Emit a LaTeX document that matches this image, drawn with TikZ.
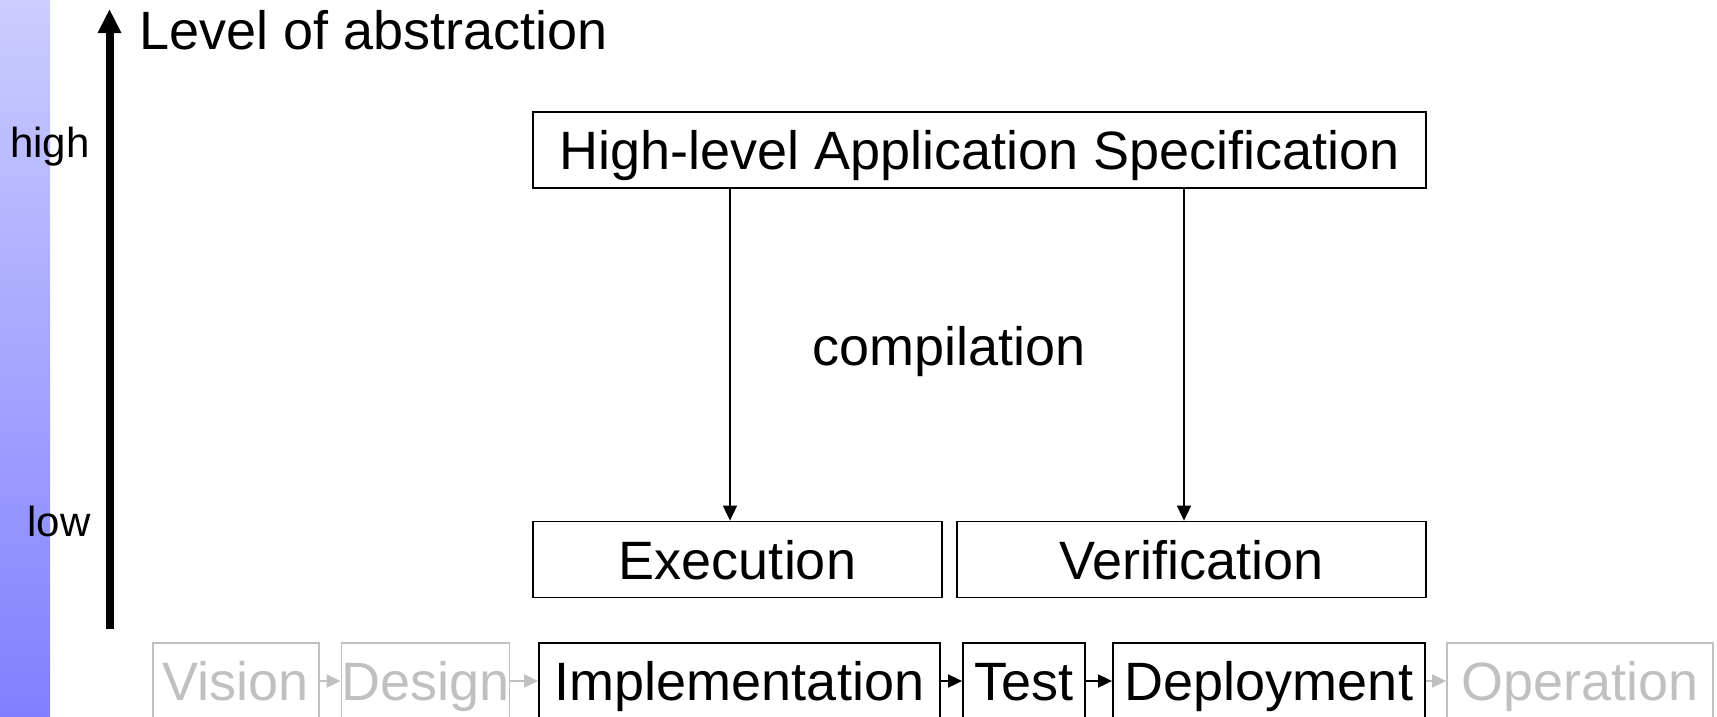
\documentclass[tikz,border=0pt]{standalone}
\usepackage{fontspec}
\setmainfont{Liberation Sans}
\usetikzlibrary{arrows.meta}

\definecolor{faded}{RGB}{192,192,192}
\definecolor{bartop}{RGB}{204,204,255}
\definecolor{barbottom}{RGB}{128,128,255}

\begin{document}
\begin{tikzpicture}[x=1pt,y=-1pt,
  bigtext/.style={font=\fontsize{54pt}{60pt}\selectfont},
  box/.style={draw, line width=1.8pt, minimum height=76pt, inner sep=0pt,
    text height=39pt, text depth=0pt, bigtext},
  fadedbox/.style={box, draw=faded, text=faded},
  flow/.style={line width=1.8pt, -{Triangle[length=15pt,width=14pt]}},
  stepflow/.style={line width=1.8pt, -{Triangle[length=14pt,width=13pt]}},
  levellabel/.style={anchor=base east, font=\fontsize{42pt}{48pt}\selectfont}
]
\useasboundingbox (0,0) rectangle (1717,716);
\clip (0,0) rectangle (1717,716);

% shaded strip on the left edge
\shade[top color=bartop, bottom color=barbottom] (0,0) rectangle (50,716);

% abstraction axis
\coordinate (axisbottom) at (109.5,629);
\coordinate (axistop) at (109.5,9);
\draw[line width=8pt, -{Triangle[length=24pt,width=22pt]}] (axisbottom) -- (axistop);
\node[anchor=base west, bigtext] (axistitle) at (136,49) {Level of abstraction};
\node[levellabel] (high) at (93,157) {high};
\node[levellabel] (low) at (94,536) {low};

% specification and its compilation targets
\node[box, minimum width=893pt] (spec) at (979.5,150) {High-level Application Specification};
\node[box, minimum width=409pt] (exec) at (737.5,559.5) {Execution};
\node[box, minimum width=469pt] (verif) at (1191.5,559.5) {Verification};
\node[anchor=base, bigtext] (comp) at (949,365) {compilation};

\coordinate (leftcol) at (730,0);
\coordinate (rightcol) at (1184,0);
\draw[flow] (leftcol |- spec.south) -- (leftcol |- exec.north);
\draw[flow] (rightcol |- spec.south) -- (rightcol |- verif.north);

% lifecycle phases
\node[fadedbox, minimum width=166pt] (vision) at (236,681) {Vision};
\node[fadedbox, minimum width=165pt] (design) at (425.5,681) {Design};
\node[box, minimum width=401pt] (impl) at (739.5,681) {Implementation};
\node[box, minimum width=122pt] (test) at (1024,681) {Test};
\node[box, minimum width=312pt] (deploy) at (1269,681) {Deployment};
\node[fadedbox, minimum width=266pt] (oper) at (1580,681) {Operation};

\draw[stepflow, faded] (vision) -- (design);
\draw[stepflow, faded] (design) -- (impl);
\draw[stepflow] (impl) -- (test);
\draw[stepflow] (test) -- (deploy);
\draw[stepflow, faded] (deploy) -- (oper);
\end{tikzpicture}
\end{document}
